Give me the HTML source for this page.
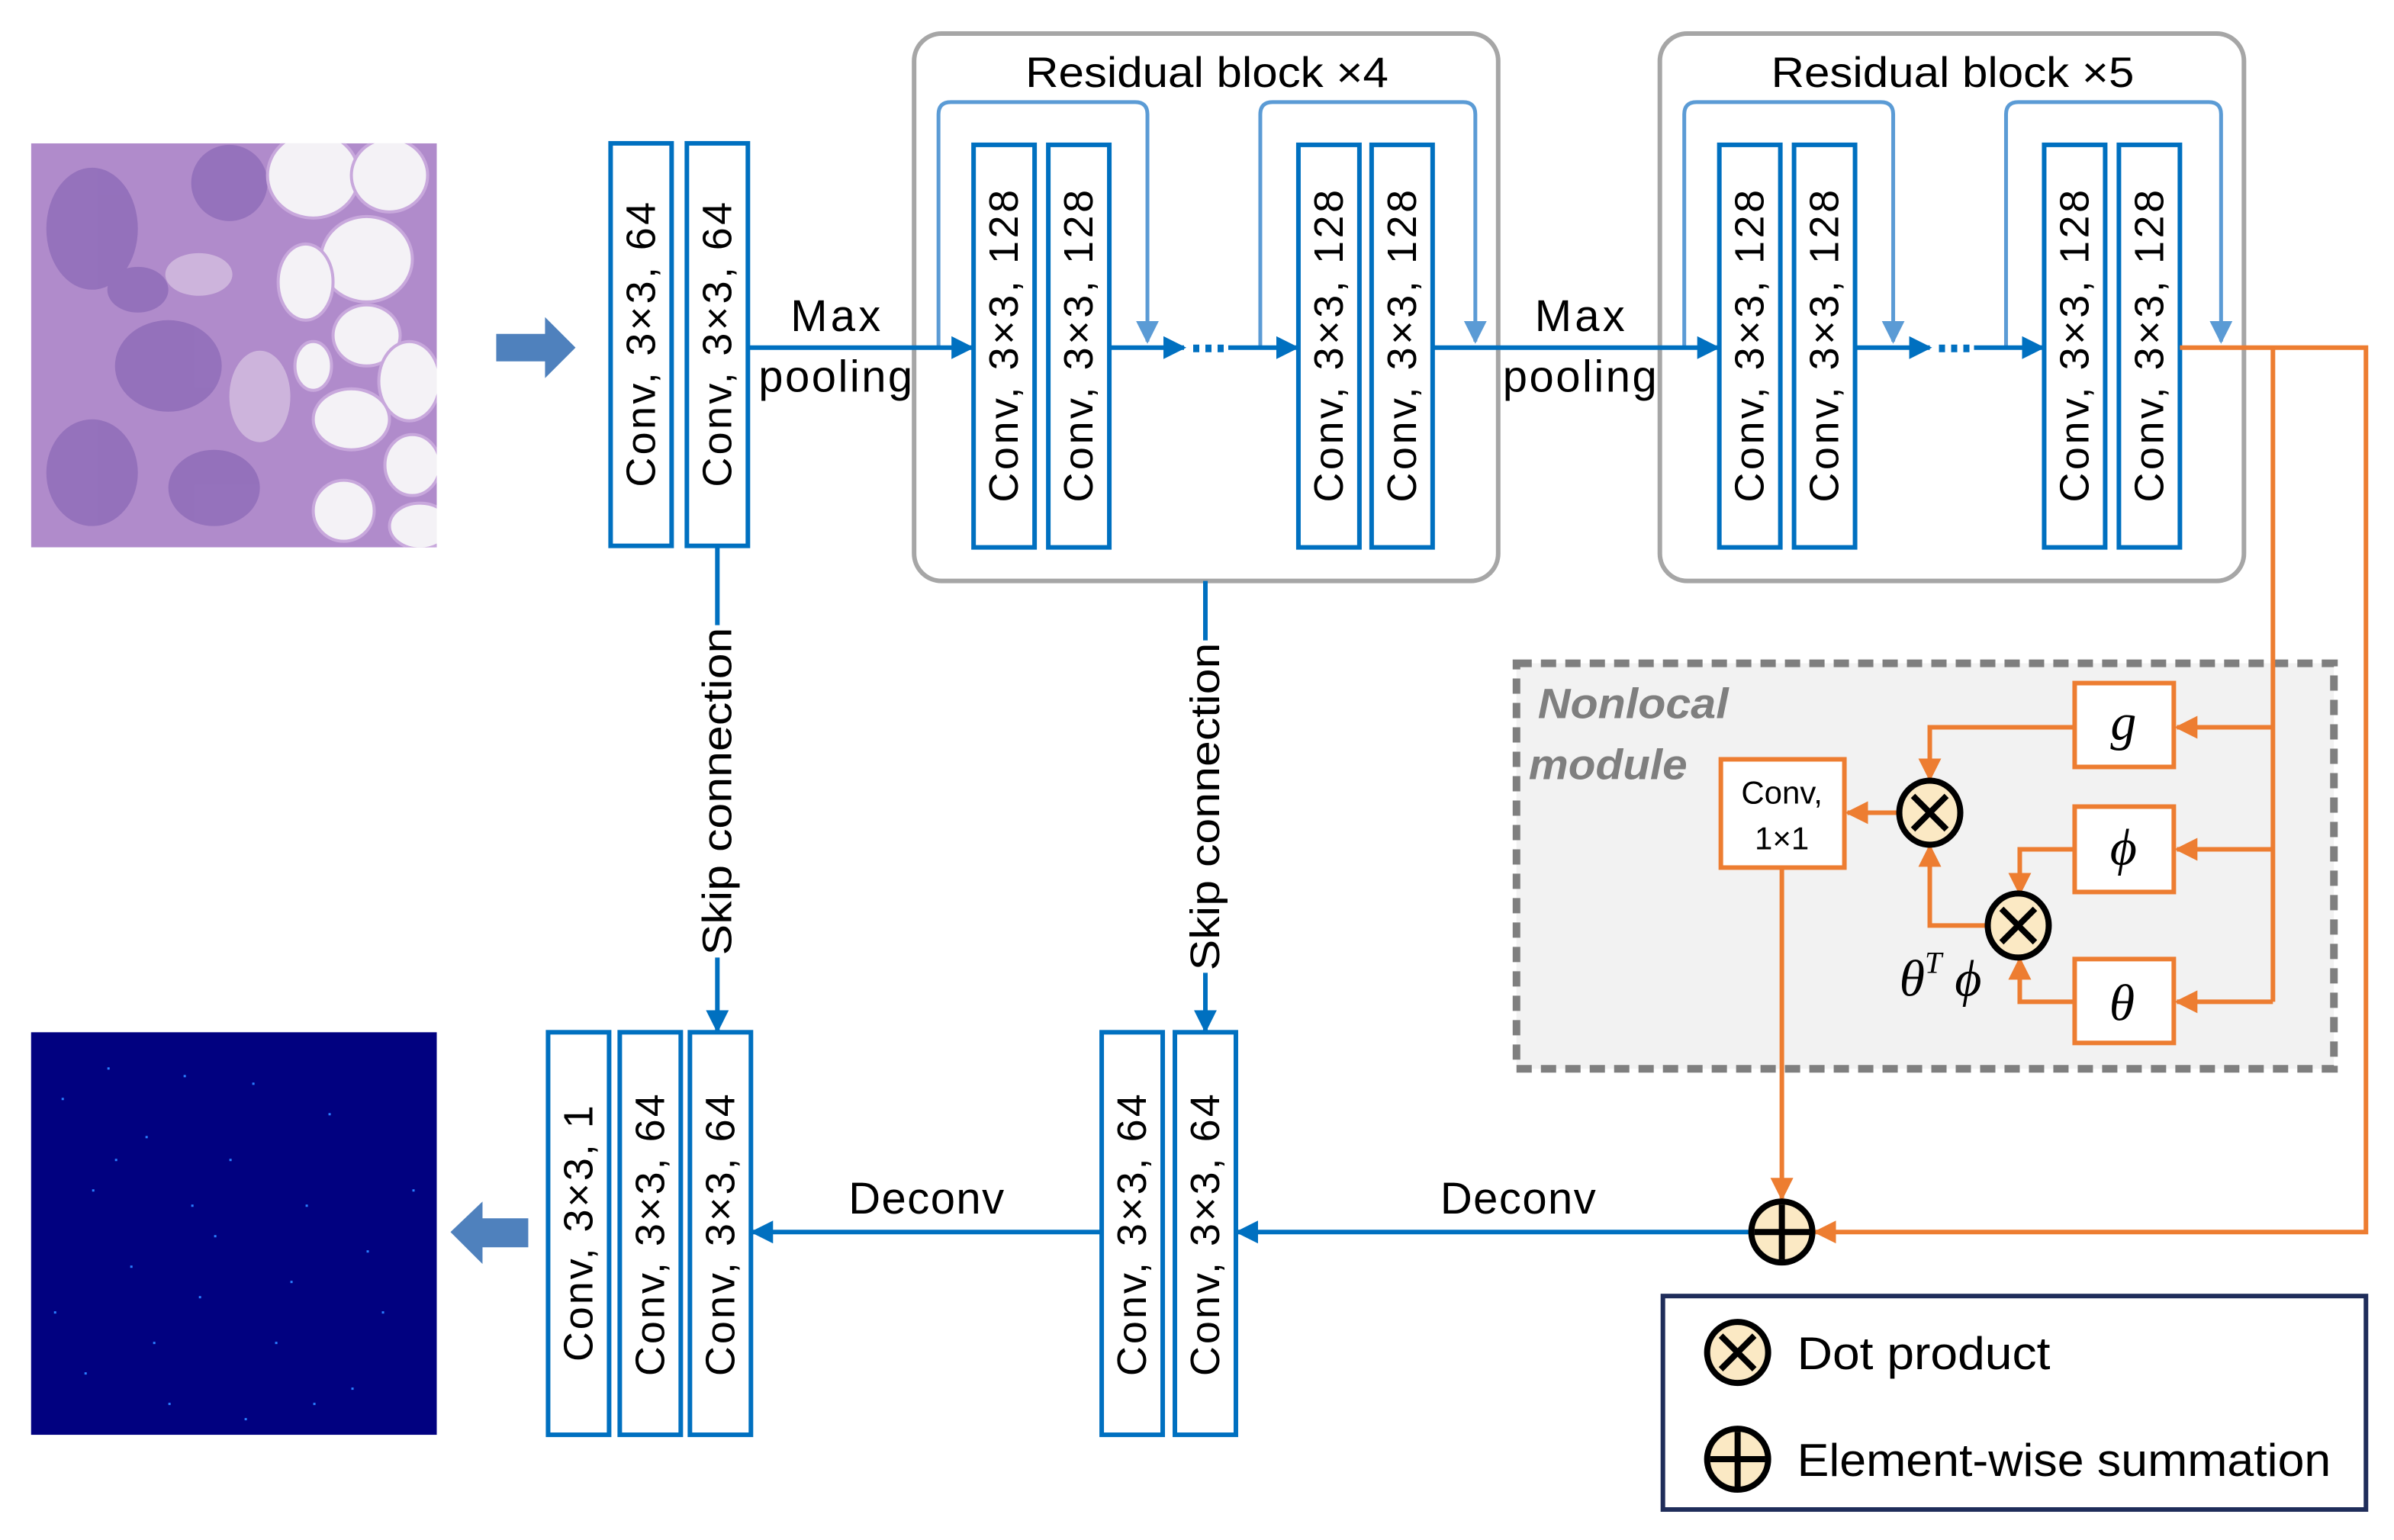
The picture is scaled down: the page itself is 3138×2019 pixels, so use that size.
<!DOCTYPE html>
<html><head><meta charset="utf-8"><style>html,body{margin:0;padding:0;background:#fff}svg{display:block}</style></head><body>
<svg xmlns="http://www.w3.org/2000/svg" width="3138" height="2019" viewBox="0 0 1569 1010" font-family="'Liberation Sans', sans-serif">
<defs>
<marker id="ab" viewBox="0 0 10 10" refX="9" refY="5" markerWidth="5" markerHeight="5" orient="auto-start-reverse" markerUnits="strokeWidth"><path d="M0,0L10,5L0,10z" fill="#0070c0"/></marker>
<marker id="al" viewBox="0 0 10 10" refX="9" refY="5" markerWidth="6" markerHeight="6" orient="auto" markerUnits="strokeWidth"><path d="M0,0L10,5L0,10z" fill="#5b9bd5"/></marker>
<marker id="ao" viewBox="0 0 10 10" refX="9" refY="5" markerWidth="5" markerHeight="5" orient="auto" markerUnits="strokeWidth"><path d="M0,0L10,5L0,10z" fill="#ed7d31"/></marker>
<clipPath id="hc"><rect x="20" y="94" width="266" height="265"/></clipPath>
</defs>
<rect width="1569" height="1010" fill="#fff"/>

<!-- histology -->
<g clip-path="url(#hc)">
<rect x="20" y="94" width="266" height="265" fill="#b08bcb"/>
<g fill="#8e6bb8" opacity="0.8">
<ellipse cx="60" cy="150" rx="30" ry="40"/><ellipse cx="110" cy="240" rx="35" ry="30"/><ellipse cx="60" cy="310" rx="30" ry="35"/><ellipse cx="150" cy="120" rx="25" ry="25"/><ellipse cx="140" cy="320" rx="30" ry="25"/><ellipse cx="90" cy="190" rx="20" ry="15"/>
</g>
<g fill="#cdb4dc"><ellipse cx="130" cy="180" rx="22" ry="14"/><ellipse cx="170" cy="260" rx="20" ry="30"/></g>
<g fill="#f4f2f6" stroke="#c8a8dc" stroke-width="2">
<ellipse cx="205" cy="115" rx="30" ry="28"/><ellipse cx="255" cy="115" rx="25" ry="24"/><ellipse cx="240" cy="170" rx="30" ry="28"/><ellipse cx="200" cy="185" rx="18" ry="25"/><ellipse cx="240" cy="220" rx="22" ry="20"/><ellipse cx="268" cy="250" rx="20" ry="26"/><ellipse cx="230" cy="275" rx="25" ry="20"/><ellipse cx="270" cy="305" rx="18" ry="20"/><ellipse cx="205" cy="240" rx="12" ry="16"/><ellipse cx="275" cy="345" rx="20" ry="15"/><ellipse cx="225" cy="335" rx="20" ry="20"/>
</g>
</g>

<!-- output image -->
<rect x="20" y="677" width="266" height="264" fill="#010180"/>
<g fill="#2a7fff">
<rect x="40" y="720" width="1.5" height="1.5"/><rect x="70" y="700" width="1.5" height="1.5"/><rect x="95" y="745" width="1.5" height="1.5"/><rect x="120" y="705" width="1.5" height="1.5"/><rect x="60" y="780" width="1.5" height="1.5"/><rect x="150" y="760" width="1.5" height="1.5"/><rect x="200" y="790" width="1.5" height="1.5"/><rect x="85" y="830" width="1.5" height="1.5"/><rect x="130" y="850" width="1.5" height="1.5"/><rect x="180" y="880" width="1.5" height="1.5"/><rect x="230" y="910" width="1.5" height="1.5"/><rect x="55" y="900" width="1.5" height="1.5"/><rect x="110" y="920" width="1.5" height="1.5"/><rect x="160" y="930" width="1.5" height="1.5"/><rect x="250" y="860" width="1.5" height="1.5"/><rect x="270" y="780" width="1.5" height="1.5"/><rect x="215" y="730" width="1.5" height="1.5"/><rect x="35" y="860" width="1.5" height="1.5"/><rect x="140" y="810" width="1.5" height="1.5"/><rect x="100" y="880" width="1.5" height="1.5"/><rect x="190" y="840" width="1.5" height="1.5"/><rect x="75" y="760" width="1.5" height="1.5"/><rect x="165" y="710" width="1.5" height="1.5"/><rect x="240" y="820" width="1.5" height="1.5"/><rect x="125" y="790" width="1.5" height="1.5"/><rect x="205" y="920" width="1.5" height="1.5"/>
</g>

<!-- big arrows -->
<path d="M325,219 H357 V208 L377,228 L357,248 V237 H325 Z" fill="#4f81bd"/>
<path d="M346,799 H316 V788 L295,808 L316,829 V818 H346 Z" fill="#4f81bd"/>

<!-- residual frames -->
<rect x="599" y="22" width="383" height="359" rx="18" fill="none" stroke="#a6a6a6" stroke-width="3"/>
<rect x="1088" y="22" width="383" height="359" rx="18" fill="none" stroke="#a6a6a6" stroke-width="3"/>
<text x="672" y="57" font-size="28" textLength="238" lengthAdjust="spacingAndGlyphs">Residual block ×4</text>
<text x="1161" y="57" font-size="28" textLength="238" lengthAdjust="spacingAndGlyphs">Residual block ×5</text>

<!-- skip loops -->
<g fill="none" stroke="#5b9bd5" stroke-width="2.5">
<path d="M615,228 V75 Q615,67 623,67 H744 Q752,67 752,75 V224" marker-end="url(#al)"/>
<path d="M826,228 V75 Q826,67 834,67 H959 Q967,67 967,75 V224" marker-end="url(#al)"/>
<path d="M1104,228 V75 Q1104,67 1112,67 H1233 Q1241,67 1241,75 V224" marker-end="url(#al)"/>
<path d="M1315,228 V75 Q1315,67 1323,67 H1448 Q1456,67 1456,75 V224" marker-end="url(#al)"/>
</g>

<!-- main blue lines -->
<g fill="none" stroke="#0070c0" stroke-width="3">
<path d="M490,228 H637" marker-end="url(#ab)"/>
<path d="M727,228 H776" marker-end="url(#ab)"/>
<path d="M805,228 H850" marker-end="url(#ab)"/>
<path d="M939,228 H1126" marker-end="url(#ab)"/>
<path d="M1216,228 H1265" marker-end="url(#ab)"/>
<path d="M1294,228 H1339" marker-end="url(#ab)"/>
<path d="M470,359 V676" marker-end="url(#ab)"/>
<path d="M790,381 V676" marker-end="url(#ab)"/>
<path d="M1148,808 H811" marker-end="url(#ab)"/>
<path d="M722,808 H493" marker-end="url(#ab)"/>
</g>
<g fill="#0070c0"><rect x="782" y="226" width="4" height="5"/><rect x="790" y="226" width="4" height="5"/><rect x="798" y="226" width="4" height="5"/><rect x="1271" y="226" width="4" height="5"/><rect x="1279" y="226" width="4" height="5"/><rect x="1287" y="226" width="4" height="5"/></g>

<g font-size="29" lengthAdjust="spacingAndGlyphs">
<text x="518" y="217" textLength="59">Max</text>
<text x="497" y="257" textLength="101">pooling</text>
<text x="1006" y="217" textLength="59">Max</text>
<text x="985" y="257" textLength="101">pooling</text>
<text x="556" y="796" textLength="102">Deconv</text>
<text x="944" y="796" textLength="102">Deconv</text>
</g>

<!-- skip labels -->
<rect x="458" y="410" width="24" height="218" fill="#fff"/>
<text transform="translate(470,519) rotate(-90)" font-size="27" text-anchor="middle" dominant-baseline="central" textLength="215" lengthAdjust="spacingAndGlyphs">Skip connection</text>
<rect x="778" y="420" width="24" height="218" fill="#fff"/>
<text transform="translate(790,529) rotate(-90)" font-size="27" text-anchor="middle" dominant-baseline="central" textLength="215" lengthAdjust="spacingAndGlyphs">Skip connection</text>

<!-- conv boxes -->
<g fill="#fff" stroke="#0070c0" stroke-width="3">
<rect x="400" y="94" width="40" height="264"/><rect x="450" y="94" width="40" height="264"/>
<rect x="638" y="95" width="40" height="264"/><rect x="687" y="95" width="40" height="264"/>
<rect x="851" y="95" width="40" height="264"/><rect x="899" y="95" width="40" height="264"/>
<rect x="1127" y="95" width="40" height="264"/><rect x="1176" y="95" width="40" height="264"/>
<rect x="1340" y="95" width="40" height="264"/><rect x="1389" y="95" width="40" height="264"/>
<rect x="359" y="677" width="40" height="264"/><rect x="406" y="677" width="40" height="264"/><rect x="452" y="677" width="40" height="264"/>
<rect x="722" y="677" width="40" height="264"/><rect x="770" y="677" width="40" height="264"/>
</g>
<g font-size="27" text-anchor="middle" dominant-baseline="central" lengthAdjust="spacingAndGlyphs">
<text transform="translate(420,226) rotate(-90)" textLength="187">Conv, 3×3, 64</text>
<text transform="translate(470,226) rotate(-90)" textLength="187">Conv, 3×3, 64</text>
<text transform="translate(658,227) rotate(-90)" textLength="205">Conv, 3×3, 128</text>
<text transform="translate(707,227) rotate(-90)" textLength="205">Conv, 3×3, 128</text>
<text transform="translate(871,227) rotate(-90)" textLength="205">Conv, 3×3, 128</text>
<text transform="translate(919,227) rotate(-90)" textLength="205">Conv, 3×3, 128</text>
<text transform="translate(1147,227) rotate(-90)" textLength="205">Conv, 3×3, 128</text>
<text transform="translate(1196,227) rotate(-90)" textLength="205">Conv, 3×3, 128</text>
<text transform="translate(1360,227) rotate(-90)" textLength="205">Conv, 3×3, 128</text>
<text transform="translate(1409,227) rotate(-90)" textLength="205">Conv, 3×3, 128</text>
<text transform="translate(379,809) rotate(-90)" textLength="168">Conv, 3×3, 1</text>
<text transform="translate(426,810) rotate(-90)" textLength="185">Conv, 3×3, 64</text>
<text transform="translate(472,810) rotate(-90)" textLength="185">Conv, 3×3, 64</text>
<text transform="translate(742,810) rotate(-90)" textLength="185">Conv, 3×3, 64</text>
<text transform="translate(790,810) rotate(-90)" textLength="185">Conv, 3×3, 64</text>
</g>

<!-- nonlocal module -->
<rect x="994" y="435" width="536" height="266" fill="#f2f2f2" stroke="#7f7f7f" stroke-width="5" stroke-dasharray="10,6"/>
<text x="1008" y="471" font-size="28" font-weight="bold" font-style="italic" fill="#7f7f7f" textLength="125" lengthAdjust="spacingAndGlyphs">Nonlocal</text>
<text x="1002" y="511" font-size="28" font-weight="bold" font-style="italic" fill="#7f7f7f" textLength="104" lengthAdjust="spacingAndGlyphs">module</text>

<g fill="none" stroke="#ed7d31" stroke-width="3">
<path d="M1429,228 H1551 V808 H1190" marker-end="url(#ao)"/>
<path d="M1490,228 V657"/>
<path d="M1490,477 H1427" marker-end="url(#ao)"/>
<path d="M1490,557 H1427" marker-end="url(#ao)"/>
<path d="M1490,657 H1427" marker-end="url(#ao)"/>
<path d="M1360,477 H1265 V511" marker-end="url(#ao)"/>
<path d="M1245,533 H1211" marker-end="url(#ao)"/>
<path d="M1360,557 H1324 V586" marker-end="url(#ao)"/>
<path d="M1303,607 H1265 V555" marker-end="url(#ao)"/>
<path d="M1360,657 H1324 V629" marker-end="url(#ao)"/>
<path d="M1168,569 V786" marker-end="url(#ao)"/>
</g>
<g fill="#fff" stroke="#ed7d31" stroke-width="3">
<rect x="1360" y="448" width="65" height="55"/>
<rect x="1360" y="529" width="65" height="56"/>
<rect x="1360" y="629" width="65" height="55"/>
<rect x="1128" y="498" width="81" height="71"/>
</g>
<g font-family="'Liberation Serif', serif" font-style="italic" font-size="34" text-anchor="middle">
<text x="1392" y="485">g</text>
<text x="1392" y="567">ϕ</text>
<text x="1391" y="669">θ</text>
<text x="1272" y="653">θ<tspan font-size="20" dy="-15">T</tspan><tspan dy="15"> ϕ</tspan></text>
</g>
<text x="1168" y="527" font-size="21" text-anchor="middle">Conv,</text>
<text x="1168" y="557" font-size="21" text-anchor="middle">1×1</text>

<!-- operators -->
<g stroke="#000" stroke-width="4">
<ellipse cx="1265" cy="533" rx="20" ry="21" fill="#fbe9c4"/>
<path d="M1254,522 L1276,544 M1276,522 L1254,544"/>
<ellipse cx="1323" cy="607" rx="20" ry="21" fill="#fbe9c4"/>
<path d="M1312,596 L1334,618 M1334,596 L1312,618"/>
<circle cx="1168" cy="808" r="20" fill="#fbe9c4"/>
<path d="M1168,790 V826 M1150,808 H1186"/>
</g>

<!-- legend -->
<rect x="1090" y="850" width="461" height="140" fill="#fff" stroke="#1f2d5a" stroke-width="3"/>
<g stroke="#000" stroke-width="4">
<circle cx="1139" cy="887" r="20" fill="#fbe9c4"/>
<path d="M1128,876 L1150,898 M1150,876 L1128,898"/>
<circle cx="1139" cy="957" r="20" fill="#fbe9c4"/>
<path d="M1139,939 V975 M1121,957 H1157"/>
</g>
<text x="1178" y="898" font-size="30" textLength="166" lengthAdjust="spacingAndGlyphs">Dot product</text>
<text x="1178" y="968" font-size="30" textLength="350" lengthAdjust="spacingAndGlyphs">Element-wise summation</text>
</svg>
</body></html>
